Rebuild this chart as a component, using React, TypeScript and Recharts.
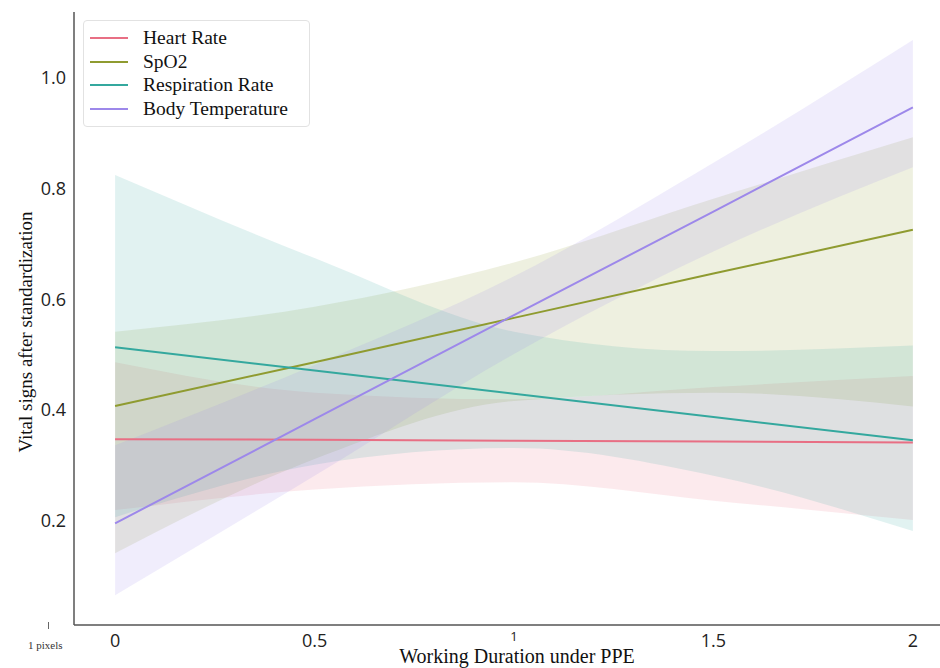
import { Area, ComposedChart, Line, XAxis, YAxis } from 'recharts'

// working duration (x) sampled where the fitted lines / CI bands were read
const durations = [0, 0.5, 1, 1.5, 2]

const heartRate = [0.346, 0.345, 0.343, 0.342, 0.34]
const heartLow = [0.218, 0.255, 0.268, 0.235, 0.2]
const heartHigh = [0.485, 0.43, 0.418, 0.44, 0.46]

const spo2 = [0.406, 0.485, 0.565, 0.645, 0.724]
const spo2Low = [0.14, 0.31, 0.415, 0.43, 0.405]
const spo2High = [0.54, 0.585, 0.665, 0.78, 0.891]

const respRate = [0.512, 0.47, 0.428, 0.386, 0.344]
const respLow = [0.205, 0.3, 0.33, 0.28, 0.18]
const respHigh = [0.823, 0.673, 0.54, 0.505, 0.515]

const bodyTemp = [0.194, 0.382, 0.57, 0.757, 0.945]
const tempLow = [0.064, 0.28, 0.5, 0.685, 0.837]
const tempHigh = [0.335, 0.48, 0.64, 0.845, 1.067]

const xTicks = [0, 0.5, 1, 1.5, 2]
const yTicks = [0.2, 0.4, 0.6, 0.8, 1.0]

const series = [
  { key: 'hr', name: 'Heart Rate', color: '#e86f84' },
  { key: 'spo2', name: 'SpO2', color: '#8f9b30' },
  { key: 'rr', name: 'Respiration Rate', color: '#34a89e' },
  { key: 'bt', name: 'Body Temperature', color: '#9d88ea' }
]

const data = durations.map((d, i) => ({
  d,
  hr: heartRate[i],
  hrBand: [heartLow[i], heartHigh[i]],
  spo2: spo2[i],
  spo2Band: [spo2Low[i], spo2High[i]],
  rr: respRate[i],
  rrBand: [respLow[i], respHigh[i]],
  bt: bodyTemp[i],
  btBand: [tempLow[i], tempHigh[i]]
}))

const serif = '"Liberation Serif", "Times New Roman", serif'
const sans = '"Open Sans", "DejaVu Sans", sans-serif'

function XTick({ x, y, payload }: any) {
  const small = payload.value === 1
  return (
    <text
      x={x}
      y={y + (small ? 11 : 15)}
      textAnchor="middle"
      dominantBaseline="central"
      fontFamily={sans}
      fontSize={small ? 13 : 18}
      fill="#222"
    >
      {payload.value}
    </text>
  )
}

function YTick({ x, y, payload }: any) {
  return (
    <text
      x={x - 8}
      y={y}
      textAnchor="end"
      dominantBaseline="central"
      fontFamily={sans}
      fontSize={18}
      fill="#222"
    >
      {payload.value.toFixed(1)}
    </text>
  )
}

function LegendBox() {
  return (
    <div
      style={{
        position: 'absolute',
        left: 83,
        top: 20,
        width: 227,
        height: 107,
        boxSizing: 'border-box',
        border: '1px solid #e2e2e2',
        borderRadius: 4,
        background: '#fff',
        padding: '5px 0 0 0'
      }}
    >
      {series.map((s) => (
        <div key={s.key} style={{ display: 'flex', alignItems: 'center', height: 23.7 }}>
          <span
            style={{
              display: 'inline-block',
              width: 38,
              height: 2,
              marginLeft: 6,
              marginRight: 15,
              backgroundColor: s.color
            }}
          />
          <span style={{ fontFamily: serif, fontSize: 19.5, color: '#111', lineHeight: 1 }}>
            {s.name}
          </span>
        </div>
      ))}
    </div>
  )
}

export default function App() {
  return (
    <div style={{ position: 'absolute', left: 0, top: 0, width: 940, height: 668, background: '#fff' }}>
      <ComposedChart
        width={940}
        height={668}
        data={data}
        margin={{ top: 12, right: 0, bottom: 0, left: 0 }}
      >
        <XAxis
          dataKey="d"
          type="number"
          domain={[-0.103, 2.068]}
          ticks={xTicks}
          allowDataOverflow
          height={43}
          tickLine={false}
          tickSize={0}
          tickMargin={0}
          axisLine={{ stroke: '#555', strokeWidth: 1.5 }}
          tick={<XTick />}
          label={() => (
            <text x={517} y={656} textAnchor="middle" dominantBaseline="central" fontFamily={serif} fontSize={20} fill="#111">
              Working Duration under PPE
            </text>
          )}
        />
        <YAxis
          type="number"
          domain={[0.0104, 1.1174]}
          ticks={yTicks}
          allowDataOverflow
          width={74}
          tickLine={false}
          tickSize={0}
          tickMargin={0}
          axisLine={{ stroke: '#555', strokeWidth: 1.5 }}
          tick={<YTick />}
          label={() => (
            <text
              x={25}
              y={332}
              transform="rotate(-90 25 332)"
              textAnchor="middle"
              dominantBaseline="central"
              fontFamily={serif}
              fontSize={19}
              fill="#111"
            >
              Vital signs after standardization
            </text>
          )}
        />
        {series.map((s) => (
          <Area
            key={`${s.key}Band`}
            dataKey={`${s.key}Band`}
            type="monotone"
            stroke="none"
            fill={s.color}
            fillOpacity={0.15}
            legendType="none"
            isAnimationActive={false}
          />
        ))}
        {series.map((s) => (
          <Line
            key={s.key}
            dataKey={s.key}
            name={s.name}
            type="linear"
            stroke={s.color}
            strokeWidth={2}
            dot={false}
            activeDot={false}
            isAnimationActive={false}
          />
        ))}
      </ComposedChart>
      <LegendBox />
      <div
        style={{
          position: 'absolute',
          left: 28,
          top: 639,
          fontFamily: serif,
          fontSize: 11,
          color: '#333',
          whiteSpace: 'nowrap'
        }}
      >
        1 pixels
      </div>
      <div style={{ position: 'absolute', left: 48, top: 622, width: 1, height: 7, background: '#666' }} />
    </div>
  )
}
